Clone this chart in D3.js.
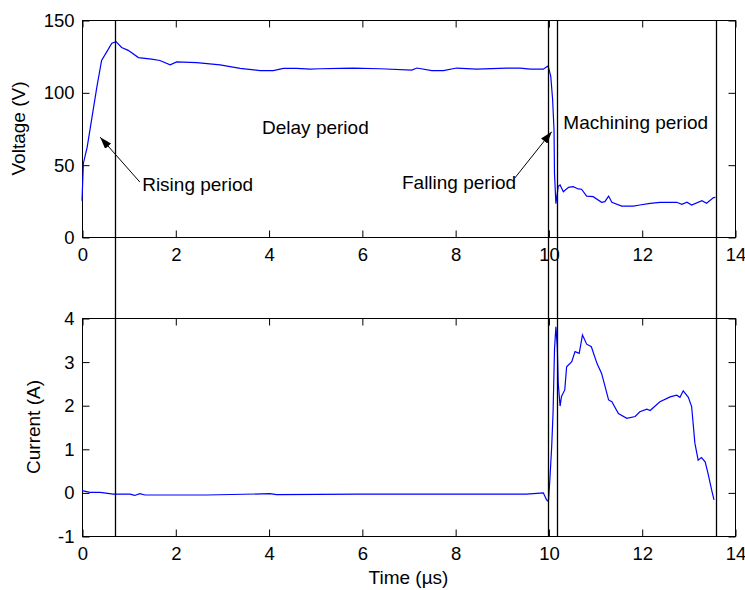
<!DOCTYPE html>
<html>
<head>
<meta charset="utf-8">
<script src="https://cdn.jsdelivr.net/npm/d3@7"></script>
<style>
  body { margin: 0; background: #fff; }
  svg text { font-family: "Liberation Sans", Arial, sans-serif; font-size: 19px; fill: #000; }
</style>
</head>
<body>
<div id="chart"></div>
<script>
// voltage trace (time in us, volts)
var voltTime = [0, 0.03, 0.11, 0.32, 0.42, 0.53, 0.64, 0.73, 0.85, 0.99, 1.21, 1.49, 1.67, 1.89, 2.03, 2.46, 2.96, 3.39, 3.82, 4.10, 4.32, 4.60, 4.89, 5.10,
  5.53, 5.82, 6.39, 7.07, 7.18, 7.50, 7.75, 8.03, 8.46, 9.11, 9.39, 9.61, 9.89, 9.98, 10.0, 10.05, 10.09, 10.12, 10.13, 10.16, 10.21, 10.25,
  10.32, 10.43, 10.53, 10.64, 10.71, 10.82, 10.96, 11.14, 11.21, 11.29, 11.36, 11.57, 11.82, 11.96, 12.18, 12.39, 12.75, 12.86, 12.97, 13.07,
  13.29, 13.39, 13.54, 13.58]
var voltValue = [25, 51, 62, 104, 122, 128, 134, 135, 131, 129, 124, 123, 122, 119, 121, 120.5, 119, 116.6, 115, 115, 116.6, 116.6, 116, 116.3,
  116.6, 116.8, 116.3, 115.4, 116.8, 115, 115, 116.8, 116, 116.8, 116.8, 116, 116, 118, 117.5, 111, 95, 74, 44, 23, 35, 36,
  31.3, 34.3, 34.8, 33.2, 33, 28.3, 27.9, 24, 24.4, 28.3, 24, 21.4, 21.4, 22.1, 23.3, 24, 24, 22.6, 24, 22.1,
  25.1, 23.3, 27.2, 27.4]

// current trace (time in us, amps)
var currTime = [0, 0.17, 0.39, 0.67, 1.03, 1.13, 1.24, 1.35, 2.67, 4.03, 4.17, 5.96, 7.68, 9.18, 9.53, 9.89, 9.96, 10.0, 10.03, 10.07, 10.10,
  10.13, 10.16, 10.19, 10.21, 10.25, 10.28, 10.35, 10.39, 10.50, 10.57, 10.66, 10.73, 10.82, 10.92, 11.04, 11.14, 11.29, 11.36, 11.50,
  11.68, 11.86, 11.96, 12.11, 12.18, 12.39, 12.61, 12.75, 12.82, 12.89, 13.0, 13.07, 13.14, 13.21, 13.28, 13.36, 13.42, 13.50, 13.55]
var currValue = [0.04, 0.0, 0.0, -0.04, -0.04, -0.07, -0.03, -0.06, -0.06, -0.03, -0.05, -0.04, -0.04, -0.04, -0.04, -0.01, -0.17, -0.21, 0.28, 1.05, 1.85,
  3.27, 3.8, 3.34, 2.5, 1.98, 2.2, 2.35, 2.88, 3.0, 3.23, 3.19, 3.61, 3.4, 3.34, 2.96, 2.73, 2.12, 2.08, 1.81,
  1.70, 1.74, 1.85, 1.91, 1.88, 2.08, 2.19, 2.23, 2.18, 2.33, 2.18, 1.97, 1.13, 0.74, 0.8, 0.70, 0.44, 0.05, -0.17]

// period boundaries (us)
var markerTimes = [0.70, 10.0, 10.19, 13.59]

var xTicks = [0, 2, 4, 6, 8, 10, 12, 14]
var voltTicks = [0, 50, 100, 150]
var currTicks = [-1, 0, 1, 2, 3, 4]

var labelTexts = ["Delay period", "Rising period", "Falling period", "Machining period"]

var width = 745
var height = 590
var left = 82, right = 735
var topY = [20, 237]       // voltage panel top / bottom
var botY = [318, 536]      // current panel top / bottom

var svg = d3.select("#chart").append("svg")
  .attr("width", width)
  .attr("height", height)

svg.append("rect").attr("width", width).attr("height", height).attr("fill", "#fff")

var x = d3.scaleLinear().domain([0, 14]).range([left, right])
var yV = d3.scaleLinear().domain([0, 150]).range([topY[1], topY[0]])
var yI = d3.scaleLinear().domain([-1, 4]).range([botY[1], botY[0]])

// plain hyphen for negatives, like the original
var fmt = function(d) { return String(d) }

function drawPanel(y, yTicks, yTop, yBottom, yLabel, labelX) {
  var g = svg.append("g")
  // box
  g.append("rect")
    .attr("x", left + 0.5).attr("y", yTop + 0.5)
    .attr("width", right - left).attr("height", yBottom - yTop)
    .attr("fill", "none").attr("stroke", "#000").attr("stroke-width", 1)

  var tick = 7
  // bottom axis ticks + labels
  g.append("g").attr("transform", "translate(0.5," + (yBottom + 0.5) + ")")
    .call(d3.axisBottom(x).tickValues(xTicks).tickSizeInner(-tick).tickSizeOuter(0).tickPadding(10).tickFormat(fmt))
  // top ticks
  g.append("g").attr("transform", "translate(0.5," + (yTop + 0.5) + ")")
    .call(d3.axisTop(x).tickValues(xTicks).tickSizeInner(-tick).tickSizeOuter(0).tickFormat(""))
  // left axis
  g.append("g").attr("transform", "translate(" + (left + 0.5) + ",0.5)")
    .call(d3.axisLeft(y).tickValues(yTicks).tickSizeInner(-tick).tickSizeOuter(0).tickPadding(8).tickFormat(fmt))
  // right ticks
  g.append("g").attr("transform", "translate(" + (right + 0.5) + ",0.5)")
    .call(d3.axisRight(y).tickValues(yTicks).tickSizeInner(-tick).tickSizeOuter(0).tickFormat(""))

  g.selectAll(".domain").remove()
  g.selectAll(".tick line").attr("stroke", "#000")
  g.selectAll(".tick text").style("font-size", "18.5px").style("font-family", "Liberation Sans, Arial, sans-serif").attr("fill", "#000")

  g.append("text")
    .attr("transform", "translate(" + labelX + "," + ((yTop + yBottom) / 2) + ") rotate(-90)")
    .attr("text-anchor", "middle")
    .text(yLabel)
  return g
}

drawPanel(yV, voltTicks, topY[0], topY[1], "Voltage (V)", 25)
drawPanel(yI, currTicks, botY[0], botY[1], "Current (A)", 40)

// traces
var voltLine = d3.line().x(function(d, i) { return x(voltTime[i]) }).y(function(d) { return yV(d) })
var currLine = d3.line().x(function(d, i) { return x(currTime[i]) }).y(function(d) { return yI(d) })

svg.append("path").datum(voltValue)
  .attr("d", voltLine).attr("fill", "none").attr("stroke", "#0000ff").attr("stroke-width", 1.2)
svg.append("path").datum(currValue)
  .attr("d", currLine).attr("fill", "none").attr("stroke", "#0000ff").attr("stroke-width", 1.2)

// period marker lines spanning both panels
svg.selectAll(".marker").data(markerTimes).enter().append("line")
  .attr("class", "marker")
  .attr("x1", function(d) { return Math.round(x(d)) + 0.5 })
  .attr("x2", function(d) { return Math.round(x(d)) + 0.5 })
  .attr("y1", yV(150))
  .attr("y2", yI(-1))
  .attr("stroke", "#000").attr("stroke-width", 1.3)

// x axis title
svg.append("text")
  .attr("x", (left + right) / 2).attr("y", 584)
  .attr("text-anchor", "middle")
  .text("Time (\u00b5s)")

// annotations
svg.append("defs").append("marker")
  .attr("id", "arrowhead")
  .attr("viewBox", "0 0 12 8")
  .attr("refX", 12).attr("refY", 4)
  .attr("markerWidth", 12).attr("markerHeight", 8)
  .attr("markerUnits", "userSpaceOnUse")
  .attr("orient", "auto")
  .append("path").attr("d", "M0,0 L12,4 L0,8 Z").attr("fill", "#000")

svg.append("text").attr("x", x(3.86)).attr("y", yV(71)).text(labelTexts[0])
svg.append("text").attr("x", x(1.29)).attr("y", yV(32)).text(labelTexts[1])
svg.append("text").attr("x", x(6.86)).attr("y", yV(33)).text(labelTexts[2])
svg.append("text").attr("x", x(10.32)).attr("y", yV(75)).text(labelTexts[3])

svg.append("line")
  .attr("x1", x(1.24)).attr("y1", yV(38)).attr("x2", x(0.39)).attr("y2", yV(69))
  .attr("stroke", "#000").attr("stroke-width", 1).attr("marker-end", "url(#arrowhead)")
svg.append("line")
  .attr("x1", x(9.28)).attr("y1", yV(40.8)).attr("x2", x(10.07)).attr("y2", yV(72.8))
  .attr("stroke", "#000").attr("stroke-width", 1).attr("marker-end", "url(#arrowhead)")
</script>
</body>
</html>
